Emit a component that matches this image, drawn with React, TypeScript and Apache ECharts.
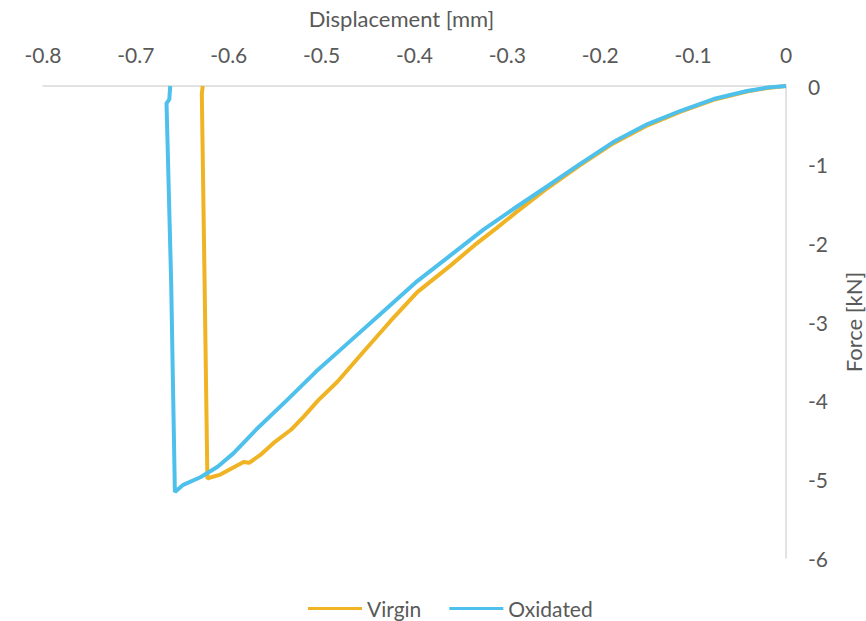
import React, { useEffect, useRef } from "react";
import * as echarts from "echarts";

const virginData: [number, number][] = [
  [0, 0], [-0.02, -0.025], [-0.042, -0.07], [-0.078, -0.175], [-0.114, -0.33],
  [-0.149, -0.5], [-0.186, -0.73], [-0.222, -1.01], [-0.257, -1.3], [-0.29, -1.6],
  [-0.311, -1.8], [-0.335, -2.02], [-0.361, -2.28], [-0.397, -2.62], [-0.426, -2.99],
  [-0.458, -3.42], [-0.483, -3.76], [-0.504, -4.0], [-0.519, -4.2], [-0.533, -4.37],
  [-0.552, -4.54], [-0.566, -4.69], [-0.578, -4.79], [-0.584, -4.78], [-0.595, -4.85],
  [-0.609, -4.94], [-0.618, -4.97], [-0.623, -4.99], [-0.626, -2.5], [-0.629, -0.1],
  [-0.628, 0],
];

const oxidatedData: [number, number][] = [
  [0, 0], [-0.02, -0.02], [-0.042, -0.064], [-0.078, -0.166], [-0.114, -0.318],
  [-0.149, -0.484], [-0.186, -0.713], [-0.222, -0.994], [-0.257, -1.274], [-0.294, -1.567],
  [-0.325, -1.82], [-0.361, -2.15], [-0.397, -2.48], [-0.433, -2.86], [-0.469, -3.24],
  [-0.506, -3.63], [-0.537, -3.99], [-0.569, -4.35], [-0.595, -4.67], [-0.612, -4.84],
  [-0.63, -4.97], [-0.649, -5.07], [-0.658, -5.16], [-0.662, -2.5], [-0.667, -0.22],
  [-0.664, -0.17], [-0.663, 0],
];

const seriesNames = ["Virgin", "Oxidated"];
const xTitle = "Displacement [mm]";
const yTitle = "Force [kN]";

const FONT = "Lato, 'Open Sans', sans-serif";
const TXT = "#595959";
const AXIS = "#d9d9d9";

export default function App() {
  const ref = useRef<HTMLDivElement>(null);
  useEffect(() => {
    document.body.style.margin = "0";
    if (!ref.current) return;
    const chart = echarts.init(ref.current, undefined, { renderer: "svg" });
    chart.setOption({
      animation: false,
      backgroundColor: "#ffffff",
      textStyle: { fontFamily: FONT },
      grid: { left: 43, right: 80, top: 86, bottom: 63, outerBoundsMode: "none" },
      legend: {
        top: 593,
        left: 303,
        icon: "rect",
        itemWidth: 54,
        itemHeight: 3,
        itemGap: 28,
        textStyle: { fontSize: 21, color: TXT, fontFamily: FONT },
        data: seriesNames,
      },
      xAxis: {
        type: "value",
        position: "top",
        min: -0.8,
        max: 0,
        interval: 0.1,
        name: xTitle,
        nameLocation: "middle",
        nameGap: 57,
        nameTextStyle: { fontSize: 22, color: TXT, fontFamily: FONT, padding: [0, 26, 0, 0] },
        axisLine: { show: true, onZero: false, lineStyle: { color: AXIS, width: 1.5 } },
        axisTick: { show: false },
        splitLine: { show: false },
        axisLabel: {
          color: TXT,
          fontSize: 21,
          fontFamily: FONT,
          margin: 21,
          formatter: (v: number) => (Math.abs(v) < 1e-9 ? "0" : v.toFixed(1)),
        },
      },
      yAxis: {
        type: "value",
        position: "right",
        min: -6,
        max: 0,
        interval: 1,
        name: yTitle,
        nameLocation: "middle",
        nameRotate: 90,
        nameGap: 56,
        nameTextStyle: { fontSize: 22, color: TXT, fontFamily: FONT },
        axisLine: { show: true, onZero: false, lineStyle: { color: AXIS, width: 1.5 } },
        axisTick: { show: false },
        splitLine: { show: false },
        axisLabel: {
          color: TXT,
          fontSize: 21,
          fontFamily: FONT,
          margin: 22,
          formatter: (v: number) => (Math.abs(v) < 1e-9 ? "0" : String(v)),
        },
      },
      series: [
        {
          name: seriesNames[0],
          type: "line",
          data: virginData,
          showSymbol: false,
          symbol: "none",
          lineStyle: { color: "#F0B323", width: 4 },
          itemStyle: { color: "#F0B323" },
          z: 2,
        },
        {
          name: seriesNames[1],
          type: "line",
          data: oxidatedData,
          showSymbol: false,
          symbol: "none",
          lineStyle: { color: "#4EC0EC", width: 4 },
          itemStyle: { color: "#4EC0EC" },
          z: 3,
        },
      ],
    });
    return () => chart.dispose();
  }, []);
  return <div ref={ref} style={{ width: 866, height: 621 }} />;
}
